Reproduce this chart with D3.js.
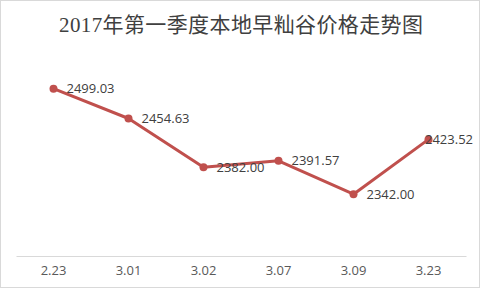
<!DOCTYPE html>
<html><head><meta charset="utf-8">
<script src="https://cdn.jsdelivr.net/npm/d3@7"></script>
<style>html,body{margin:0;padding:0;background:#fff;}svg{display:block;}</style>
</head><body>
<script>
const titleText = "2017年第一季度本地早籼谷价格走势图";
const categories = ["2.23","3.01","3.02","3.07","3.09","3.23"];
const prices = [2499.03, 2454.63, 2382.00, 2391.57, 2342.00, 2423.52];
const yDomain = [2250, 2550];

const W = 482, H = 290;
const svg = d3.select("body").append("svg").attr("width", W).attr("height", H);

svg.append("rect").attr("x",0.5).attr("y",0.5).attr("width",479).attr("height",287)
  .attr("fill","#fff").attr("stroke","#d9d9d9").attr("stroke-width",1);

svg.append("text").attr("x",241).attr("y",32).attr("text-anchor","middle")
  .attr("font-family","'Liberation Serif','DejaVu Serif','Noto Sans CJK SC',serif")
  .attr("font-size",21).attr("fill","#404040")
  .attr("textLength",364).attr("lengthAdjust","spacing")
  .text(titleText);

const x = d3.scaleBand().domain(categories).range([16,466]);
const y = d3.scaleLinear().domain(yDomain).range([256, 54.4]);

const xAxis = d3.axisBottom(x).tickSize(0).tickPadding(10);
const gx = svg.append("g").attr("transform","translate(0,256)").call(xAxis);
gx.select(".domain").attr("stroke","#d9d9d9").attr("stroke-width",1);
gx.selectAll("text").attr("font-family","'Open Sans',sans-serif").attr("font-size",13)
  .attr("fill","#595959");

const data = categories.map((c,i)=>({c, v: prices[i]}));
const line = d3.line().x(d=>x(d.c)+x.bandwidth()/2).y(d=>y(d.v));
svg.append("path").datum(data).attr("d",line).attr("fill","none")
  .attr("stroke","#c0504d").attr("stroke-width",3).attr("stroke-linejoin","round");
svg.selectAll("circle.pt").data(data).join("circle").attr("class","pt")
  .attr("cx",d=>x(d.c)+x.bandwidth()/2).attr("cy",d=>y(d.v)).attr("r",4)
  .attr("fill","#c0504d");

svg.selectAll("text.lbl").data(data).join("text").attr("class","lbl")
  .attr("font-family","'Open Sans',sans-serif").attr("font-size",13).attr("fill","#404040")
  .attr("dy","0.35em")
  .attr("y",d=>y(d.v))
  .text(d=>d.v.toFixed(2))
  .each(function(d){
    const w = this.getComputedTextLength();
    let lx = x(d.c)+x.bandwidth()/2 + 13;
    if (lx + w > 473) lx = 473 - w;
    d3.select(this).attr("x", lx);
  });
</script>
</body></html>
